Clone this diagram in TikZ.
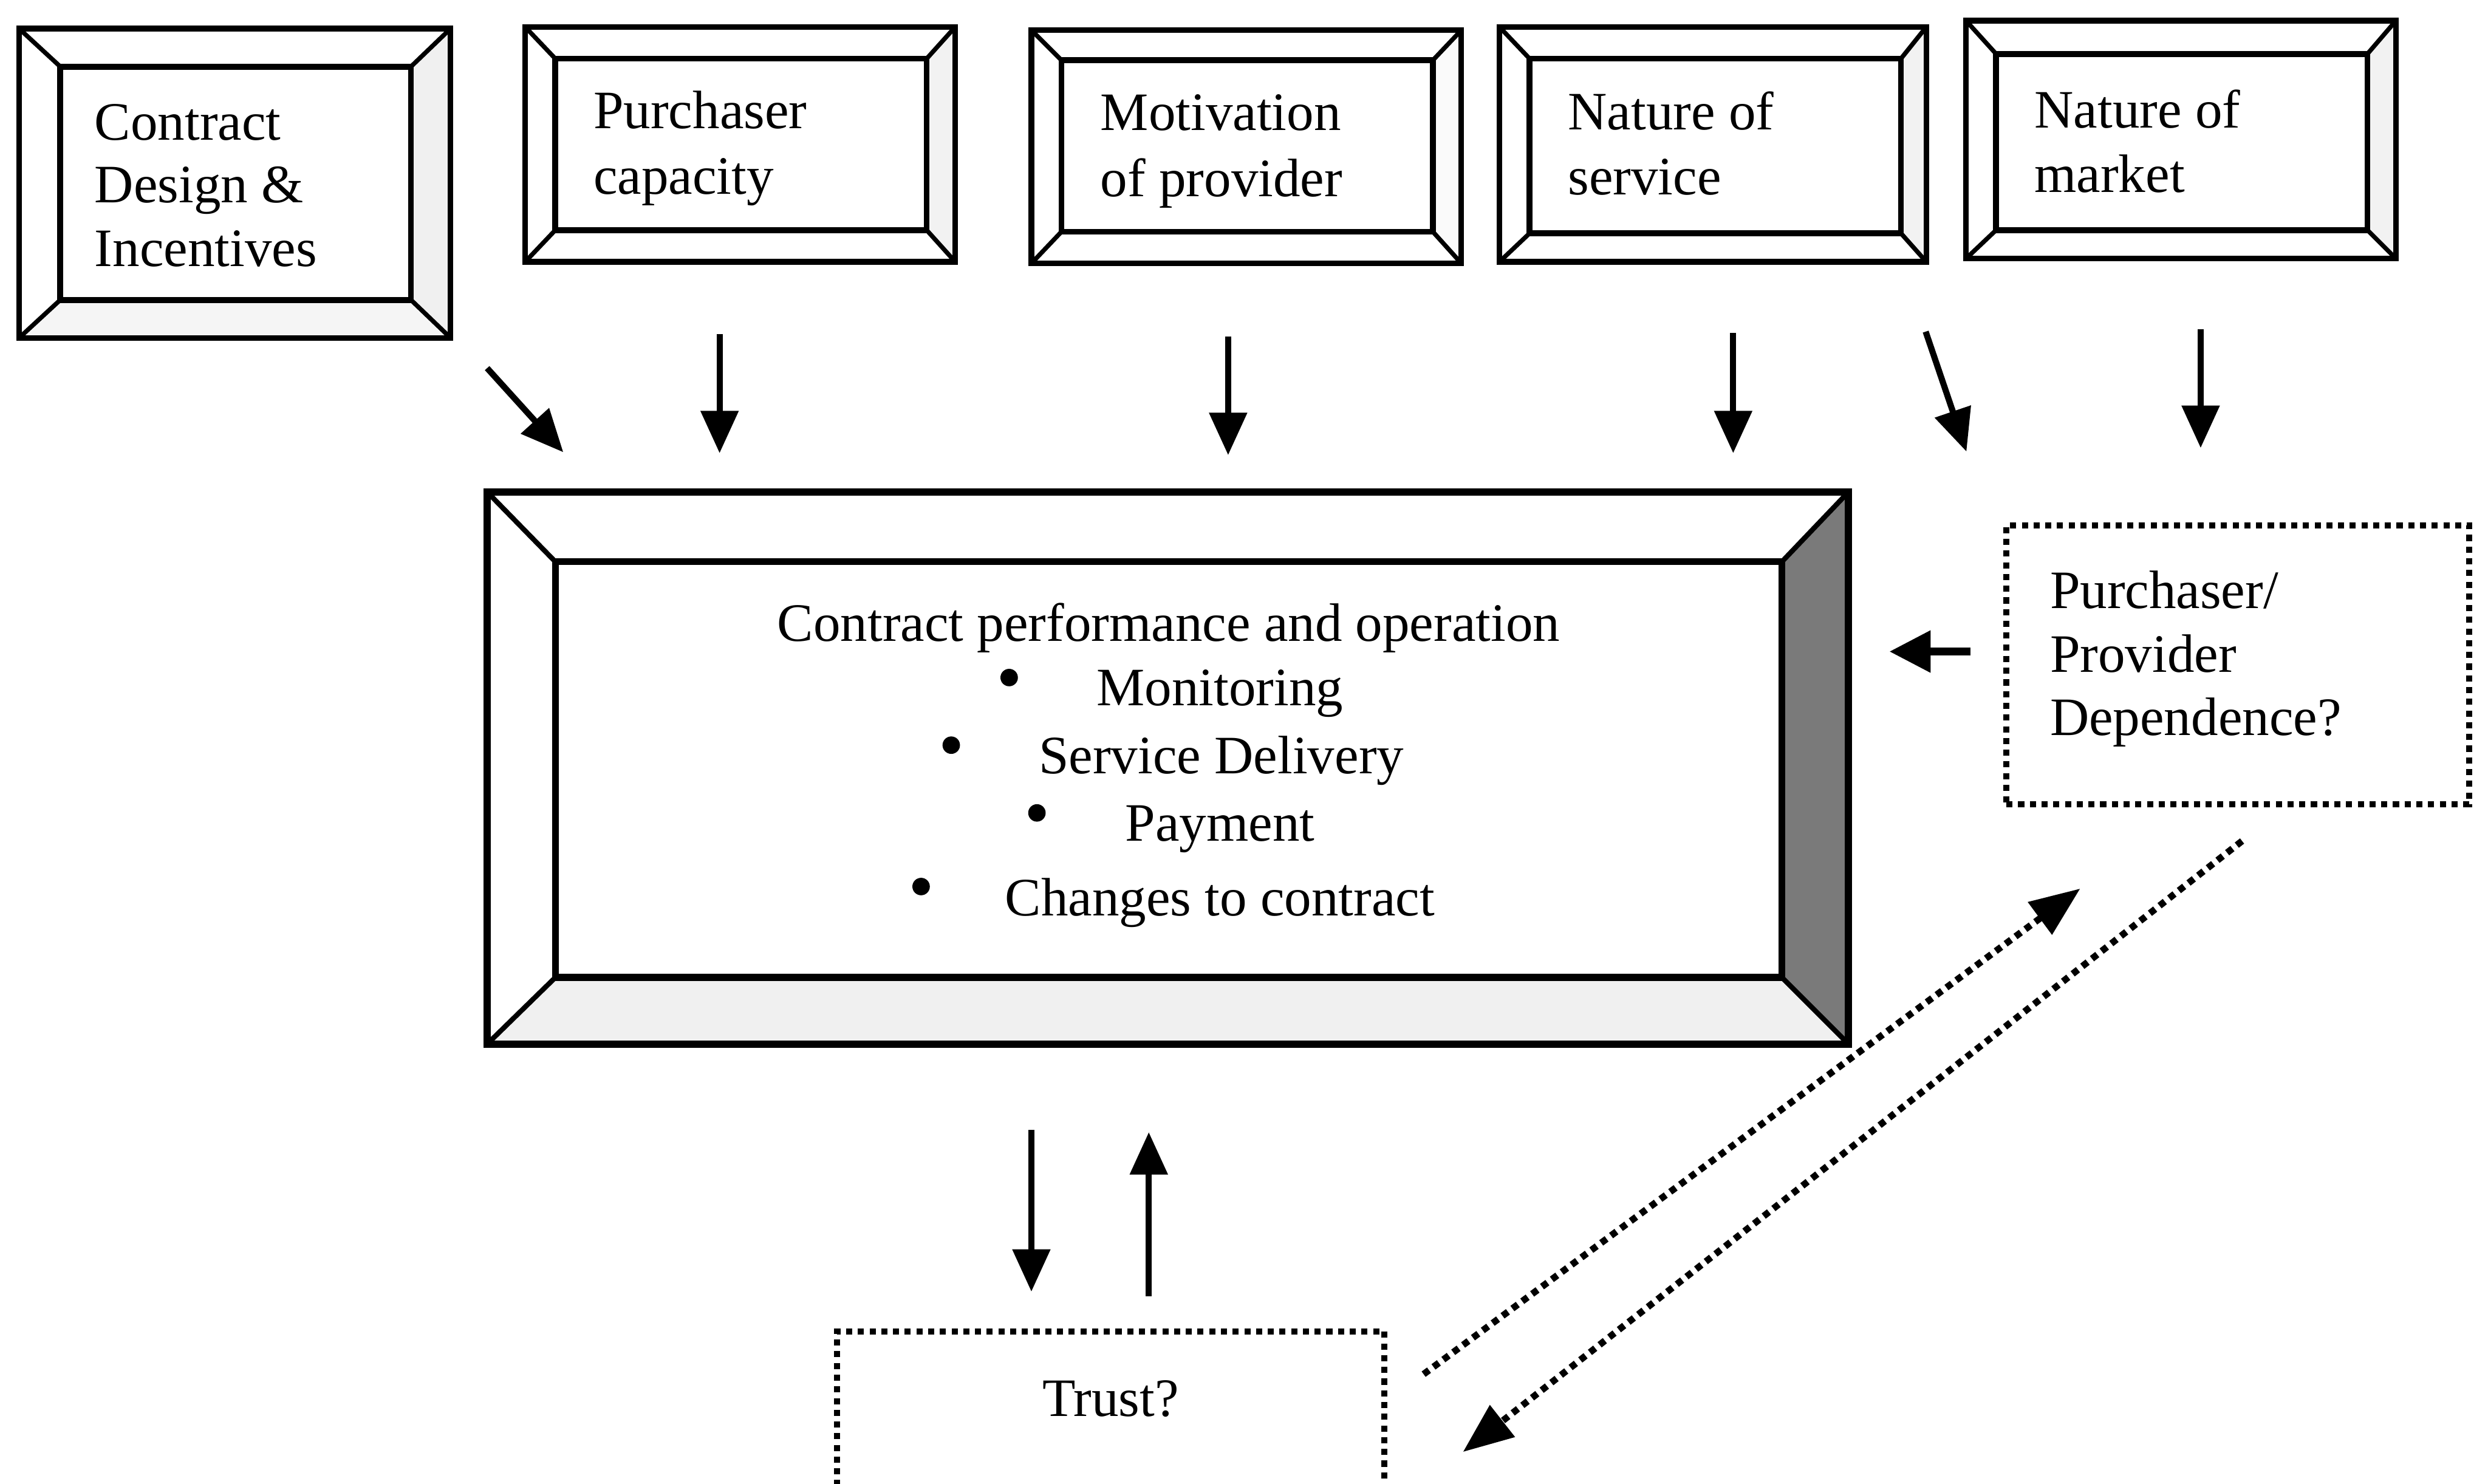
\documentclass[tikz,border=0pt]{standalone}
\usepackage{fontspec}
\setmainfont{Liberation Serif}
\usetikzlibrary{arrows.meta,fit}
\newcommand\bevbox[9]{%
  \fill[rfill] (#4,#3) -- (#8,#7) -- (#8,#9) -- (#4,#5) -- cycle;
  \fill[bfill] (#2,#5) -- (#6,#9) -- (#8,#9) -- (#4,#5) -- cycle;
  \coordinate (#1-a) at (#2,#3);
  \coordinate (#1-b) at (#4,#3);
  \coordinate (#1-c) at (#4,#5);
  \coordinate (#1-d) at (#2,#5);
  \draw[frame] (#1-a) rectangle (#1-c);
  \node[innerbox, fit={(#6,#7) (#8,#9)}] (#1) {};
  \draw[bev] (#1-a) -- (#1.north west) (#1-b) -- (#1.north east)
             (#1-c) -- (#1.south east) (#1-d) -- (#1.south west);
}
\begin{document}
\begin{tikzpicture}[x=0.1mm,y=-0.1mm,
  lbl/.style={inner sep=0pt, font=\fontsize{9.7}{11.5}\selectfont},
  frame/.style={line width=1pt},
  bev/.style={line width=0.8pt},
  innerbox/.style={draw, line width=1.05pt, inner sep=0pt, outer sep=0pt, rectangle},
  rfill/.style={fill=black!6},
  bfill/.style={fill=none},
  arr/.style={line width=1.1pt, -{Triangle[length=7.6pt,width=6.6pt]}},
  thickarr/.style={line width=1.5pt, -{Triangle[length=7.4pt,width=7.2pt]}},
  darr/.style={line width=1.2pt, densely dotted, -{Triangle[length=9pt,width=7pt]}},
  dbox/.style={draw, line width=1.1pt, densely dotted, inner sep=0pt, outer sep=0pt, rectangle},
  bul/.style={fill=black},
]
\useasboundingbox (0,0) rectangle (1568,935);
\clip (0,0) rectangle (1568,935);

% ---------- top boxes ----------
\tikzset{bfill/.style={fill=black!4}}
\bevbox{cdi}{12}{18}{284}{213}{38}{42}{259}{189}
\tikzset{bfill/.style={fill=none}, rfill/.style={fill=black!5}}
\bevbox{pc}{331}{17}{602}{165}{350}{37}{584}{145}
\tikzset{rfill/.style={fill=black!2}}
\bevbox{mp}{650}{19}{921}{166}{669}{38}{903}{146}
\tikzset{rfill/.style={fill=black!5}}
\bevbox{ns}{945}{17}{1214}{165}{964}{37}{1198}{147}
\bevbox{nm}{1239}{13}{1510}{163}{1258}{34}{1492}{145}

\node[lbl, anchor=base west] (cdi1) at (59,88.3) {Contract};
\node[lbl, anchor=base west] (cdi2) at (59,127.8) {Design \&};
\node[lbl, anchor=base west] (cdi3) at (59,168) {Incentives};
\node[lbl, anchor=base west] (pc1) at (373.4,81) {Purchaser};
\node[lbl, anchor=base west] (pc2) at (373.4,122.4) {capacity};
\node[lbl, anchor=base west] (mp1) at (692.9,82.2) {Motivation};
\node[lbl, anchor=base west] (mp2) at (692.9,123.8) {of provider};
\node[lbl, anchor=base west] (ns1) at (987.5,81.6) {Nature of};
\node[lbl, anchor=base west] (ns2) at (987.5,122.7) {service};
\node[lbl, anchor=base west] (nm1) at (1281.5,80.5) {Nature of};
\node[lbl, anchor=base west] (nm2) at (1281.5,121) {market};

% ---------- central box ----------
\tikzset{rfill/.style={fill=black!52}, bfill/.style={fill=black!6},
  frame/.style={line width=1.3pt}, bev/.style={line width=0.9pt},
  innerbox/.style={draw, line width=1.25pt, inner sep=0pt, outer sep=0pt, rectangle}}
\bevbox{cpo}{307}{310}{1165}{658}{350}{354}{1123}{616}

\node[lbl, anchor=base] (cpo0) at (736.5,404) {Contract performance and operation};
\fill[bul] (636,427) circle (5.5);
\node[lbl, anchor=base west] (cpo1) at (690.4,444.7) {Monitoring};
\fill[bul] (599.5,469.6) circle (5.5);
\node[lbl, anchor=base west] (cpo2) at (654,487.4) {Service Delivery};
\fill[bul] (653.5,512.3) circle (5.5);
\node[lbl, anchor=base west] (cpo3) at (708.5,530) {Payment};
\fill[bul] (580.5,558.7) circle (5.5);
\node[lbl, anchor=base west] (cpo4) at (632.8,577) {Changes to contract};

% ---------- dotted boxes ----------
\node[dbox, fit={(1264.5,331) (1556,507)}] (dep) {};
\node[lbl, anchor=base west] (dep1) at (1291.3,383.3) {Purchaser/};
\node[lbl, anchor=base west] (dep2) at (1291.3,423.4) {Provider};
\node[lbl, anchor=base west] (dep3) at (1291.3,463.5) {Dependence?};

\node[dbox, fit={(527.5,839) (872.5,1000)}] (trust) {};
\node[lbl, anchor=base] (trust1) at (700,892.4) {Trust?};

% ---------- arrows ----------
\coordinate (a1s) at (307,232);   \coordinate (a1e) at (355,285);
\coordinate (a2s) at (453.5,210.5); \coordinate (a2e) at (453.5,285.6);
\coordinate (a3s) at (774,212);   \coordinate (a3e) at (774,286.8);
\coordinate (a4s) at (1092.3,209.8); \coordinate (a4e) at (1092.3,285.6);
\coordinate (a5s) at (1213.6,209); \coordinate (a5e) at (1239.3,284.6);
\coordinate (a6s) at (1386.9,207.6); \coordinate (a6e) at (1386.9,282.3);
\draw[arr] (a1s) -- (a1e);
\draw[arr] (a2s) -- (a2e);
\draw[arr] (a3s) -- (a3e);
\draw[arr] (a4s) -- (a4e);
\draw[arr] (a5s) -- (a5e);
\draw[arr] (a6s) -- (a6e);

\coordinate (a7s) at (1242,410.6); \coordinate (a7e) at (1190.7,410.6);
\draw[thickarr] (a7s) -- (a7e);

\coordinate (a8s) at (650,712);  \coordinate (a8e) at (650,814);
\coordinate (a9s) at (724,817);  \coordinate (a9e) at (724,713.5);
\draw[arr] (a8s) -- (a8e);
\draw[arr] (a9s) -- (a9e);

\coordinate (d1s) at (897.2,866); \coordinate (d1e) at (1311,560);
\coordinate (d2s) at (1413,530);  \coordinate (d2e) at (922,915);
\draw[darr] (d1s) -- (d1e);
\draw[darr] (d2s) -- (d2e);
\end{tikzpicture}
\end{document}
